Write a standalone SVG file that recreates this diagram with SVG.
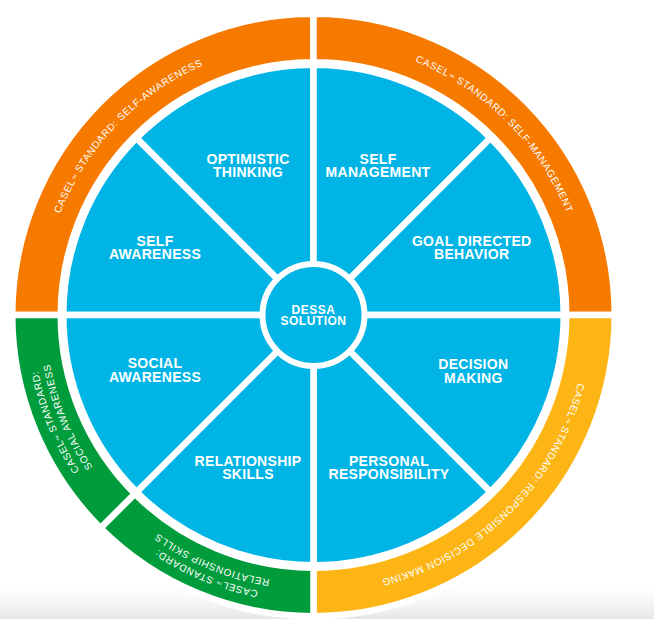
<svg xmlns="http://www.w3.org/2000/svg" xmlns:xlink="http://www.w3.org/1999/xlink" width="654" height="619" viewBox="0 0 654 619">
<defs>
<linearGradient id="shadow" x1="0" y1="0" x2="0" y2="1">
<stop offset="0" stop-color="#ffffff" stop-opacity="0"/>
<stop offset="1" stop-color="#e6e6e6" stop-opacity="1"/>
</linearGradient>
<path id="c273" d="M586.5,315 A273,273 0 1 1 40.5,315 A273,273 0 1 1 586.5,315"/>
<path id="c281" d="M594.5,315 A281,281 0 1 1 32.5,315 A281,281 0 1 1 594.5,315"/>
<path id="c268" d="M581.5,315 A268,268 0 1 1 45.5,315 A268,268 0 1 1 581.5,315"/>
<style>
.seg{stroke:#ffffff;stroke-width:6.5;stroke-linejoin:miter}
.blue{fill:#00B5E6}
.orange{fill:#F77A00}
.green{fill:#009C3B}
.yellow{fill:#FDB515}
.lbl{font-family:"Liberation Sans",Arial,sans-serif;font-weight:bold;font-size:14px;letter-spacing:0.3px;fill:#ffffff;text-anchor:middle}
.ctr{font-family:"Liberation Sans",Arial,sans-serif;font-weight:bold;font-size:12px;letter-spacing:0.5px;fill:#ffffff;text-anchor:middle}
.ring{font-family:"Liberation Sans",Arial,sans-serif;font-size:10px;letter-spacing:0.6px;fill:#ffffff;text-anchor:middle}
.ring2{font-family:"Liberation Sans",Arial,sans-serif;font-size:10px;letter-spacing:0.7px;fill:#ffffff;text-anchor:middle}
.tm{font-size:6px;letter-spacing:0.2px}
</style>
</defs>
<rect x="0" y="0" width="654" height="619" fill="#ffffff"/>
<rect x="0" y="578" width="654" height="41" fill="url(#shadow)"/>

<g id="ring-self-awareness">
<path class="seg orange" d="M12.25,315 A301.25,301.25 0 0 1 313.5,13.75 L313.5,62.25 A252.75,252.75 0 0 0 60.75,315 Z"/>
<text class="ring"><textPath xlink:href="#c273" href="#c273" startOffset="62.22%">CASEL<tspan class="tm">™</tspan> STANDARD: SELF-AWARENESS</textPath></text>
</g>
<g id="ring-self-management">
<path class="seg orange" d="M313.5,13.75 A301.25,301.25 0 0 1 614.75,315 L566.25,315 A252.75,252.75 0 0 0 313.5,62.25 Z"/>
<text class="ring"><textPath xlink:href="#c273" href="#c273" startOffset="87.5%">CASEL<tspan class="tm">™</tspan> STANDARD: SELF-MANAGEMENT</textPath></text>
</g>
<g id="ring-responsible-decision-making">
<path class="seg yellow" d="M614.75,315 A301.25,301.25 0 0 1 313.5,616.25 L313.5,567.75 A252.75,252.75 0 0 0 566.25,315 Z"/>
<text class="ring"><textPath xlink:href="#c273" href="#c273" startOffset="12.5%">CASEL<tspan class="tm">™</tspan> STANDARD: RESPONSIBLE DECISION MAKING</textPath></text>
</g>
<g id="ring-relationship-skills">
<path class="seg green" d="M313.5,616.25 A301.25,301.25 0 0 1 100.48,528.02 L134.78,493.72 A252.75,252.75 0 0 0 313.5,567.75 Z"/>
<text class="ring2"><textPath xlink:href="#c281" href="#c281" startOffset="31.25%">CASEL<tspan class="tm">™</tspan> STANDARD:</textPath></text>
<text class="ring2"><textPath xlink:href="#c268" href="#c268" startOffset="31.25%">RELATIONSHIP SKILLS</textPath></text>
</g>
<g id="ring-social-awareness">
<path class="seg green" d="M100.48,528.02 A301.25,301.25 0 0 1 12.25,315 L60.75,315 A252.75,252.75 0 0 0 134.78,493.72 Z"/>
<text class="ring2"><textPath xlink:href="#c281" href="#c281" startOffset="43.75%">CASEL<tspan class="tm">™</tspan> STANDARD:</textPath></text>
<text class="ring2"><textPath xlink:href="#c268" href="#c268" startOffset="43.75%">SOCIAL AWARENESS</textPath></text>
</g>

<g id="self-awareness">
<path class="seg blue" d="M313.5,315 L63.25,315 A250.25,250.25 0 0 1 136.55,138.05 Z"/>
<text class="lbl"><tspan x="155" y="246">SELF</tspan><tspan x="155" y="259.3">AWARENESS</tspan></text>
</g>
<g id="optimistic-thinking">
<path class="seg blue" d="M313.5,315 L136.55,138.05 A250.25,250.25 0 0 1 313.5,64.75 Z"/>
<text class="lbl"><tspan x="248" y="164">OPTIMISTIC</tspan><tspan x="248" y="177.3">THINKING</tspan></text>
</g>
<g id="self-management">
<path class="seg blue" d="M313.5,315 L313.5,64.75 A250.25,250.25 0 0 1 490.45,138.05 Z"/>
<text class="lbl"><tspan x="378" y="163.5">SELF</tspan><tspan x="378" y="176.8">MANAGEMENT</tspan></text>
</g>
<g id="goal-directed-behavior">
<path class="seg blue" d="M313.5,315 L490.45,138.05 A250.25,250.25 0 0 1 563.75,315 Z"/>
<text class="lbl"><tspan x="471.7" y="246">GOAL DIRECTED</tspan><tspan x="471.7" y="259.3">BEHAVIOR</tspan></text>
</g>
<g id="decision-making">
<path class="seg blue" d="M313.5,315 L563.75,315 A250.25,250.25 0 0 1 490.45,491.95 Z"/>
<text class="lbl"><tspan x="473.3" y="369.3">DECISION</tspan><tspan x="473.3" y="382.6">MAKING</tspan></text>
</g>
<g id="personal-responsibility">
<path class="seg blue" d="M313.5,315 L490.45,491.95 A250.25,250.25 0 0 1 313.5,565.25 Z"/>
<text class="lbl"><tspan x="389" y="465.7">PERSONAL</tspan><tspan x="389" y="479">RESPONSIBILITY</tspan></text>
</g>
<g id="relationship-skills">
<path class="seg blue" d="M313.5,315 L313.5,565.25 A250.25,250.25 0 0 1 136.55,491.95 Z"/>
<text class="lbl"><tspan x="248" y="465.7">RELATIONSHIP</tspan><tspan x="248" y="479">SKILLS</tspan></text>
</g>
<g id="social-awareness">
<path class="seg blue" d="M313.5,315 L136.55,491.95 A250.25,250.25 0 0 1 63.25,315 Z"/>
<text class="lbl"><tspan x="155" y="368.3">SOCIAL</tspan><tspan x="155" y="381.6">AWARENESS</tspan></text>
</g>

<g id="dessa-solution">
<circle cx="313.5" cy="315" r="51" fill="#00B5E6" stroke="#ffffff" stroke-width="6"/>
<text class="ctr"><tspan x="313.5" y="314">DESSA</tspan><tspan x="313.5" y="325.2">SOLUTION</tspan></text>
</g>

<g id="connectors"></g>
</svg>
